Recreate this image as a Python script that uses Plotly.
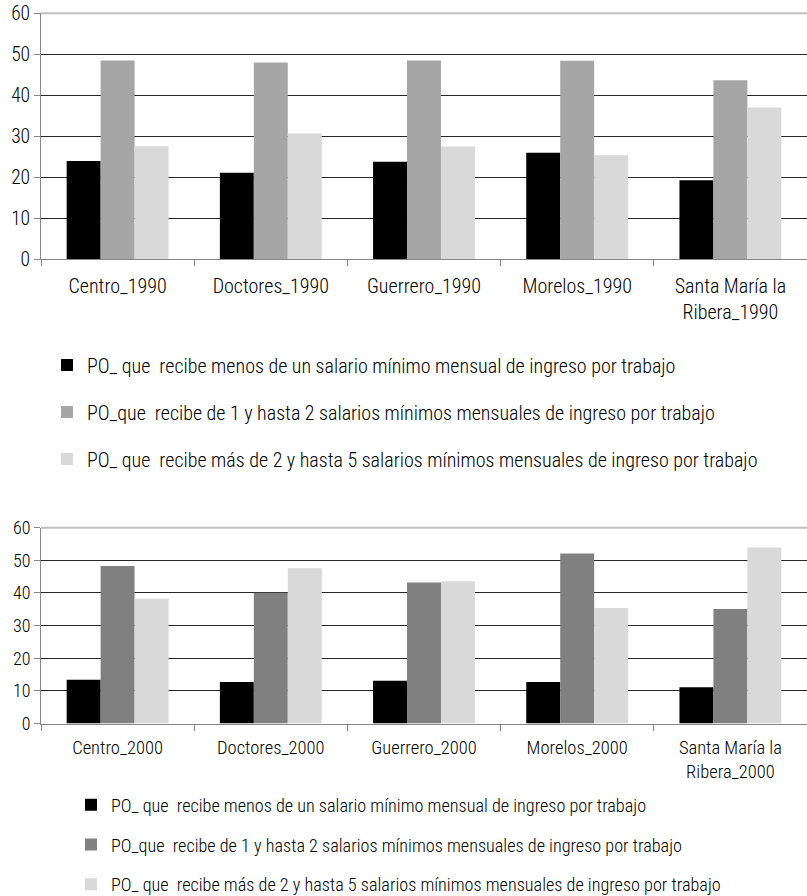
import plotly.graph_objects as go

cats_1990 = ["Centro_1990", "Doctores_1990", "Guerrero_1990", "Morelos_1990", "Santa María la<br>Ribera_1990"]
cats_2000 = ["Centro_2000", "Doctores_2000", "Guerrero_2000", "Morelos_2000", "Santa María la<br>Ribera_2000"]

series_names = [
    "PO_ que\u00a0 recibe menos de un salario mínimo mensual de ingreso por trabajo",
    "PO_que\u00a0 recibe de 1 y hasta 2 salarios mínimos mensuales de ingreso por trabajo",
    "PO_ que\u00a0 recibe más de 2 y hasta 5 salarios mínimos mensuales de ingreso por trabajo",
]

menos_1_1990 = [24.0, 21.1, 23.8, 26.0, 19.3]
de1a2_1990 = [48.5, 48.0, 48.5, 48.4, 43.7]
de2a5_1990 = [27.6, 30.7, 27.5, 25.4, 37.0]

menos_1_2000 = [13.4, 12.7, 13.1, 12.7, 11.1]
de1a2_2000 = [48.3, 40.1, 43.2, 52.1, 35.1]
de2a5_2000 = [38.2, 47.6, 43.6, 35.4, 53.9]

y_ticks = [0, 10, 20, 30, 40, 50, 60]

colors_1990 = ["#000000", "#a6a6a6", "#d9d9d9"]
colors_2000 = ["#000000", "#808080", "#d9d9d9"]

FONT = "Roboto Condensed, Liberation Sans Narrow, Arial Narrow, Liberation Sans, sans-serif"

W, H = 807, 896
fig = go.Figure()

data_1990 = [menos_1_1990, de1a2_1990, de2a5_1990]
data_2000 = [menos_1_2000, de1a2_2000, de2a5_2000]

for i, vals in enumerate(data_1990):
    fig.add_trace(go.Bar(x=cats_1990, y=vals, name=series_names[i],
                         marker=dict(color=colors_1990[i], line=dict(width=0)),
                         xaxis="x", yaxis="y", legend="legend", legendgroup="a%d" % i))
for i, vals in enumerate(data_2000):
    fig.add_trace(go.Bar(x=cats_2000, y=vals, name=series_names[i],
                         marker=dict(color=colors_2000[i], line=dict(width=0)),
                         xaxis="x2", yaxis="y2", legend="legend2", legendgroup="b%d" % i))

x0 = 41 / W
top_dom = [1 - 259.3 / H, 1 - 13.3 / H]
bot_dom = [1 - 723.5 / H, 1 - 527.7 / H]

axis_common = dict(showgrid=False, showline=True, linecolor="#868686", linewidth=1,
                   ticks="outside", ticklen=6, tickcolor="#868686", tickson="boundaries",
                   automargin=False, fixedrange=True)
yaxis_common = dict(range=[0, 60], tickvals=y_ticks, showgrid=True, gridcolor="#262626",
                    gridwidth=1, zeroline=False, showline=True, linecolor="#868686",
                    ticks="outside", ticklen=6, tickcolor="#868686", automargin=False,
                    fixedrange=True)

fig.update_layout(
    width=W, height=H,
    margin=dict(l=0, r=0, t=0, b=0, autoexpand=False),
    paper_bgcolor="white", plot_bgcolor="white",
    barmode="group", bargap=0.335, bargroupgap=0,
    font=dict(family=FONT, color="#000000", weight=300),
    xaxis=dict(domain=[x0, 1], anchor="y", tickfont=dict(size=20), ticklabelstandoff=9, **axis_common),
    yaxis=dict(domain=top_dom, anchor="x", tickfont=dict(size=19.5), **yaxis_common),
    xaxis2=dict(domain=[x0, 1], anchor="y2", tickfont=dict(size=18.5), ticklabelstandoff=7, **axis_common),
    yaxis2=dict(domain=bot_dom, anchor="x2", tickfont=dict(size=18), **yaxis_common),
    legend=dict(x=47 / W, y=1 - 345.5 / H, xanchor="left", yanchor="top",
                font=dict(size=20), tracegroupgap=18, bgcolor="rgba(0,0,0,0)"),
    legend2=dict(x=71 / W, y=1 - 786.5 / H, xanchor="left", yanchor="top",
                 font=dict(size=18.2), tracegroupgap=13, bgcolor="rgba(0,0,0,0)"),
    showlegend=True,
    shapes=[
        dict(type="line", xref="x domain", yref="y domain", x0=0, x1=1, y0=1, y1=1,
             line=dict(color="#c0c0c0", width=2)),
        dict(type="line", xref="x2 domain", yref="y2 domain", x0=0, x1=1, y0=1, y1=1,
             line=dict(color="#c0c0c0", width=2)),
    ],
)

fig.write_html("out.html", config=dict(displayModeBar=False),
               post_script="document.body.style.margin='0';document.body.style.overflow='hidden';")
